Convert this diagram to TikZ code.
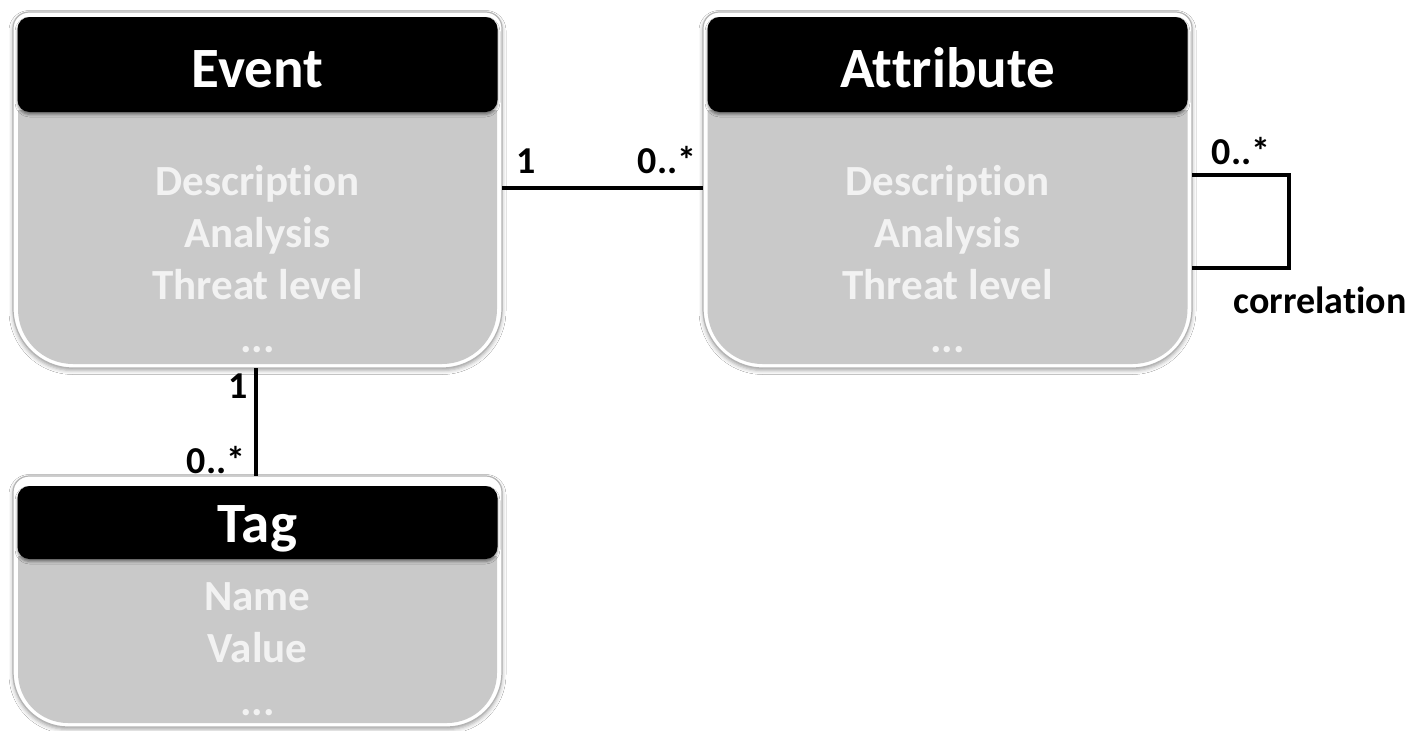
\documentclass[tikz,border=0pt]{standalone}
\usepackage{fontspec}
\setmainfont{Carlito}[Ligatures=NoCommon]
\usetikzlibrary{shadows.blur}
\definecolor{bodygray}{HTML}{C9C9C9}
\definecolor{attrtext}{HTML}{F2F2F2}
\definecolor{rimgray}{HTML}{B4B4B4}
% outline of a box with top corner radius #5 and bottom corner radius #6
\newcommand\boxpath[6]{({#1},{#2+#5}) -- ({#1},{#4-#6})
  arc[start angle=180,end angle=90,radius=#6] -- ({#3-#6},{#4})
  arc[start angle=90,end angle=0,radius=#6] -- ({#3},{#2+#5})
  arc[start angle=0,end angle=-90,radius=#5] -- ({#1+#5},{#2})
  arc[start angle=-90,end angle=-180,radius=#5] -- cycle}
\begin{document}
\begin{tikzpicture}[x=1pt,y=-1pt,
  frameshape/.style={fill=white,draw=rimgray,line width=1.2pt,
    blur shadow={shadow xshift=0pt,shadow yshift=-2.5pt,shadow blur radius=4pt,shadow opacity=35}},
  hitbox/.style={inner sep=0pt,outer sep=0pt},
  head/.style={fill=black,rounded corners=12pt,inner sep=0pt,minimum width=480,
    blur shadow={shadow xshift=0pt,shadow yshift=-2.5pt,shadow blur radius=2.5pt,shadow opacity=45}},
  bodyfill/.style={fill=bodygray},
  title/.style={anchor=base,text=white,font=\fontsize{57}{60}\selectfont\bfseries},
  attrline/.style={anchor=base,text=attrtext,font=\fontsize{43}{46}\selectfont\bfseries},
  mult/.style={anchor=base,text=black,font=\fontsize{38}{40}\selectfont\bfseries},
  conn/.style={draw=black,line width=3.6pt}]

\fill[white] (0,0) rectangle (1425,731);
\path[use as bounding box] (0,0) rectangle (1425,731);

% ---------- Event ----------
\node[hitbox,minimum width=489,minimum height=356] (event) at (257.5,190) {};
\path[frameshape] \boxpath{13}{12}{502}{368}{16}{60};
\path[bodyfill] \boxpath{18}{110}{497}{364}{0}{55};
\node[head,minimum height=95] (eventhead) at (257.5,64.5) {};
\node[title] (eventtitle) at (257.5,87) {Event};
\node[attrline] (eventdesc) at (257.5,195) {Description};
\node[attrline] (eventana) at (257.5,247) {Analysis};
\node[attrline] (eventthreat) at (257.5,299) {Threat level};
\node[attrline] (eventmore) at (257.5,352) {...};

% ---------- Attribute ----------
\node[hitbox,minimum width=489,minimum height=356] (attr) at (947.5,190) {};
\path[frameshape] \boxpath{703}{12}{1192}{368}{16}{60};
\path[bodyfill] \boxpath{707.5}{110}{1187.5}{364}{0}{55};
\node[head,minimum height=95] (attrhead) at (947.5,64.5) {};
\node[title] (attrtitle) at (947.5,87) {Attribute};
\node[attrline] (attrdesc) at (947.5,195) {Description};
\node[attrline] (attrana) at (947.5,247) {Analysis};
\node[attrline] (attrthreat) at (947.5,299) {Threat level};
\node[attrline] (attrmore) at (947.5,352) {...};

% ---------- Tag ----------
\node[hitbox,minimum width=489,minimum height=251] (tag) at (257.5,601.5) {};
\path[frameshape] \boxpath{13}{476}{502}{727}{16}{55};
\path[bodyfill] \boxpath{18}{556}{497}{723}{0}{50};
\node[head,minimum height=73] (taghead) at (257.5,522.5) {};
\node[title] (tagtitle) at (257.5,542) {Tag};
\node[attrline] (tagname) at (257.5,610) {Name};
\node[attrline] (tagvalue) at (257.5,662) {Value};
\node[attrline] (tagmore) at (257.5,715) {...};

% ---------- associations ----------
\draw[conn] ([yshift=2pt]event.east) -- ([yshift=2pt]attr.west);
\node[mult] (m1) at (526,173) {1};
\node[mult] (m2) at (667,173) {0..*};

\draw[conn] ([xshift=-1.5pt]event.south) -- ([xshift=-1.5pt]tag.north);
\node[mult] (m3) at (238,398) {1};
\node[mult] (m4) at (216,473) {0..*};

\coordinate (loopfar) at ([xshift=97pt,yshift=-78pt]attr.east);
\draw[conn] ([yshift=15pt]attr.east) -| (loopfar) -- ([yshift=-78pt]attr.east);
\node[mult] (m5) at (1241,164) {0..*};
\node[mult] (corr) at (1320,313) {correlation};
\end{tikzpicture}
\end{document}
